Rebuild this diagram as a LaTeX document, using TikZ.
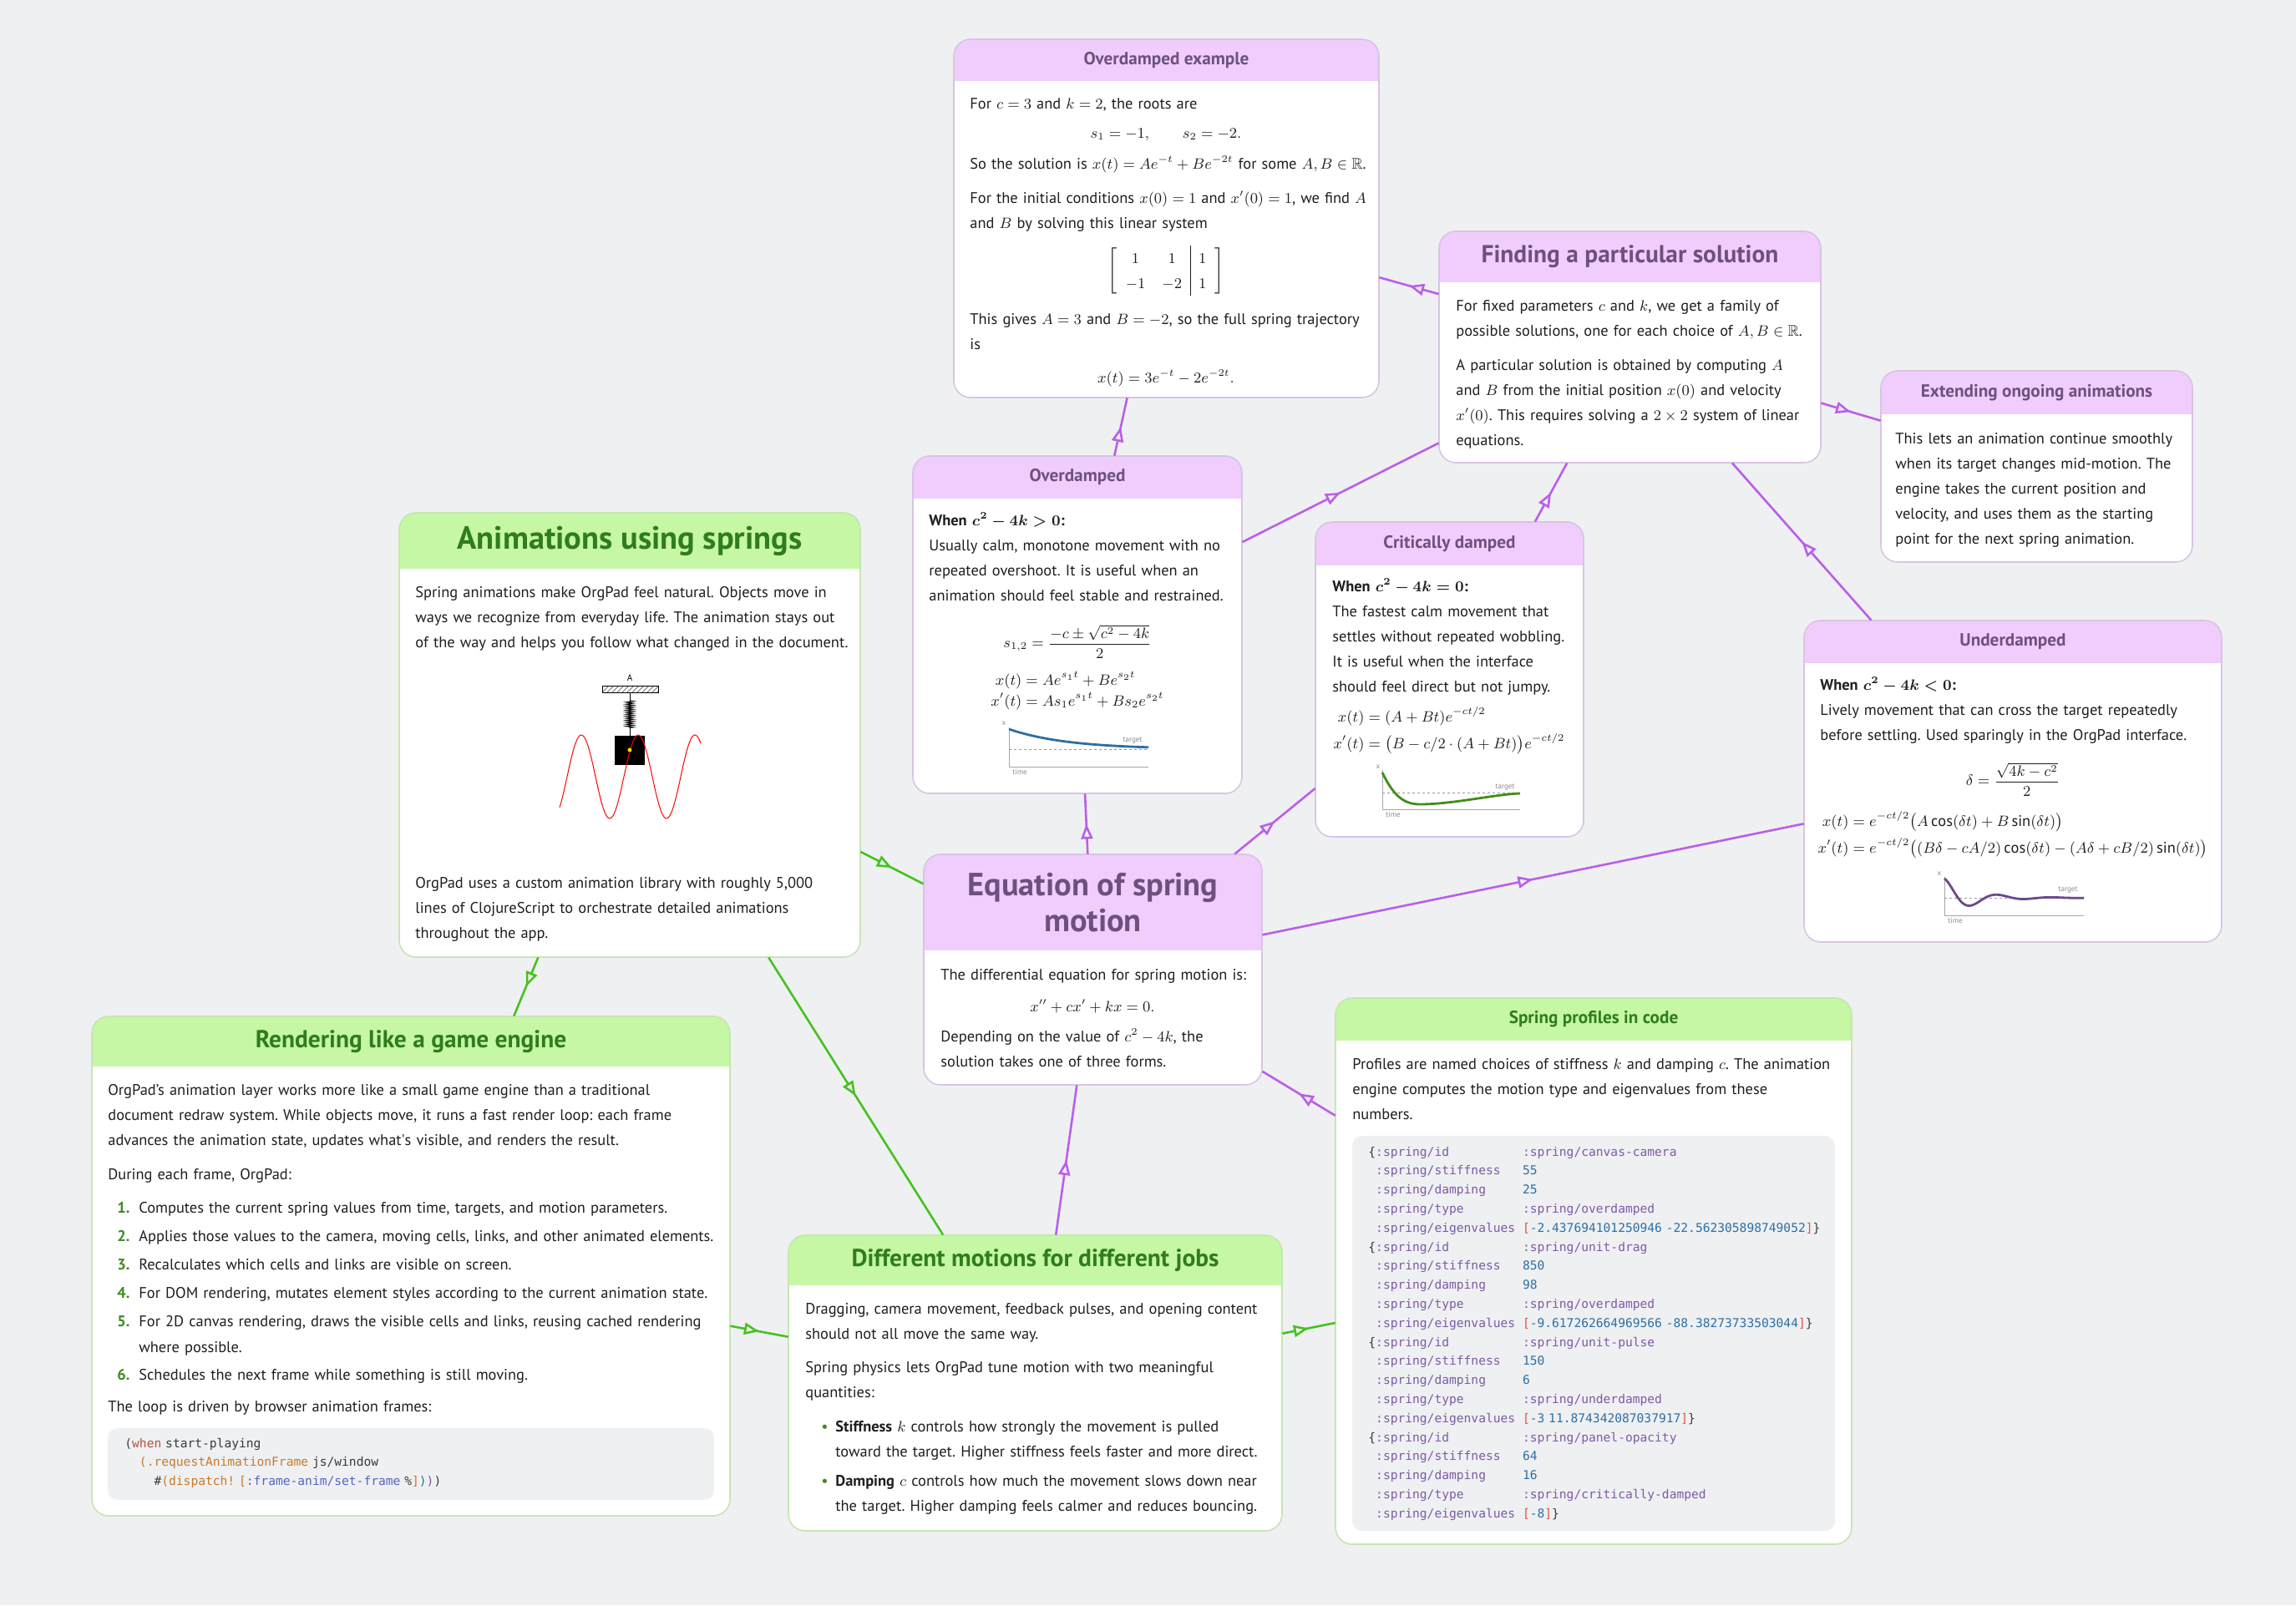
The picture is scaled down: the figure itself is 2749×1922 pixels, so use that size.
\documentclass[tikz,border=0pt]{standalone}
\usepackage{amsmath}
\usepackage{amssymb}
\usepackage{fontspec}
\setmainfont{PT Sans}
\setmonofont{DejaVu Sans Mono}
\usetikzlibrary{fit,calc,arrows.meta,decorations.markings,decorations.pathmorphing,patterns}
\setlength{\jot}{0pt}
\frenchspacing

\definecolor{cBg}{HTML}{EFF0F2}
\definecolor{cPhead}{HTML}{F0CDFC}
\definecolor{cPtitle}{HTML}{6D5080}
\definecolor{cPline}{HTML}{D8C4E4}
\definecolor{cPedge}{HTML}{BB5EEA}
\definecolor{cGhead}{HTML}{C5F7A5}
\definecolor{cGtitle}{HTML}{2F7D1B}
\definecolor{cGline}{HTML}{C6E6B2}
\definecolor{cGedge}{HTML}{46C21E}
\definecolor{cText}{HTML}{1E1E1E}
\definecolor{cNum}{HTML}{3C8A1E}
\definecolor{cCodebg}{HTML}{EEF0F2}
\definecolor{cCode}{HTML}{3A3A3A}
\definecolor{cKey}{HTML}{7D5BA6}
\definecolor{cNr}{HTML}{2D6FA3}
\definecolor{cBr}{HTML}{E2533F}
\definecolor{cWhen}{HTML}{B5533A}
\definecolor{cFn}{HTML}{C87A2B}
\definecolor{cKw}{HTML}{5566C0}
\definecolor{cBlue}{HTML}{2F6EA5}
\definecolor{cGreen}{HTML}{3F8E1A}
\definecolor{cViolet}{HTML}{6A4A8C}

\newcommand{\bodysize}{\fontsize{9.2}{15}\selectfont}
% card: name, x1, y1, x2, y2, header bottom, p/g
\newcommand{\cardbox}[7]{%
  \node[fit={(#2,#3) (#4,#5)}, inner sep=0pt, fill=white, rounded corners=10pt] (#1) {};
  \begin{scope}
    \clip[rounded corners=10pt] (#2,#3) rectangle (#4,#5);
    \fill[#7fill] (#2,#3) rectangle (#4,#6);
  \end{scope}
  \draw[#7line, rounded corners=10pt] (#2,#3) rectangle (#4,#5);
  \coordinate (#1-head) at ($(#2,#3)!0.5!(#4,#6)$);
}
\newcommand{\inum}[1]{\makebox[13pt][l]{\textcolor{cNum}{\bfseries #1}}}
\newcommand{\ibul}{\makebox[8.5pt][l]{\textcolor{cNum}{\textbullet}}}
\newcommand{\kv}[3]{\makebox[0.602em][l]{#1}\makebox[12.04em][l]{\textcolor{cKey}{#2}}#3}
\newcommand{\codekey}[1]{\textcolor{cKey}{#1}}
\newcommand{\codenum}[1]{\textcolor{cNr}{#1}}
\newcommand{\codebr}[1]{\textcolor{cBr}{#1}}

\tikzset{
  pfill/.style={fill=cPhead},
  gfill/.style={fill=cGhead},
  pline/.style={draw=cPline, line width=0.8pt},
  gline/.style={draw=cGline, line width=0.8pt},
  ptitle/.style={inner sep=0pt, text=cPtitle, font=\bfseries\fontsize{#1}{#1}\selectfont},
  ptitle/.default=10.6,
  gtitle/.style={inner sep=0pt, text=cGtitle, font=\bfseries\fontsize{#1}{#1}\selectfont},
  gtitle/.default=10.6,
  body/.style={anchor=base west, inner sep=0pt, text width=400pt, align=left, text=cText, font=\bodysize},
  eqn/.style={anchor=base, inner sep=0pt, text=cText, font=\bodysize},
  eqs/.style={anchor=center, inner sep=0pt, text=cText, font=\fontsize{9.2}{#1}\selectfont},
  eqs/.default=15,
  code/.style={anchor=base west, inner sep=0pt, text width=400pt, align=left, text=cCode, font=\ttfamily\fontsize{7.3}{11.4}\selectfont},
  lab/.style={inner sep=0pt, text=black!45, font=\fontsize{4.5}{5}\selectfont},
  axis/.style={draw=black!35, line width=0.5pt},
  target/.style={draw=black!40, dash pattern=on 1.5pt off 1.5pt, line width=0.4pt},
  curve/.style={line width=1.4pt},
  plink/.style={draw=cPedge, line width=1.3pt, postaction={decorate},
    decoration={markings, mark=at position 0.5 with {\arrow{Triangle[length=9pt, width=7pt, color=cPedge, fill=cBg]}}}},
  glink/.style={draw=cGedge, line width=1.3pt, postaction={decorate},
    decoration={markings, mark=at position 0.5 with {\arrow{Triangle[length=9pt, width=7pt, color=cGedge, fill=cBg]}}}}
}

\begin{document}
\begin{tikzpicture}[x=0.5pt,y=-0.5pt]
\fill[cBg] (0,0) rectangle (2749,1922);
\useasboundingbox (0,0) rectangle (2749,1922);

% cards
\cardbox{ovex}{1142}{47}{1651}{476}{97}{p}
\cardbox{ovd}{1093}{546}{1487}{950}{597}{p}
\cardbox{find}{1723}{277}{2180}{554}{338}{p}
\cardbox{ext}{2252}{444}{2625}{673}{496}{p}
\cardbox{crit}{1575}{625}{1896}{1002}{677}{p}
\cardbox{und}{2160}{743}{2660}{1128}{794}{p}
\cardbox{eq}{1106}{1023}{1511}{1299}{1138}{p}
\cardbox{anim}{478}{614}{1030}{1146}{681}{g}
\cardbox{rend}{110}{1217}{874}{1815}{1277}{g}
\cardbox{diff}{944}{1479}{1535}{1833}{1539}{g}
\cardbox{prof}{1599}{1195}{2217}{1849}{1246}{g}

% Overdamped example
\node[ptitle] (ovex-t) at (ovex-head) {Overdamped example};
\node[body] (ovex-1) at (1161,130) {For $c=3$ and $k=2$, the roots are};
\node[eqn] (ovex-2) at (1396,165) {$s_1=-1,\qquad s_2=-2.$};
\node[body] (ovex-3) at (1161,202) {So the solution is $x(t)=Ae^{-t}+Be^{-2t}$ for some $A,B\in\mathbb{R}$.};
\node[body] (ovex-4) at (1161,243) {For the initial conditions $x(0)=1$ and $x'(0)=1$, we find $A$\\and $B$ by solving this linear system};
\node[eqn, anchor=center] (ovex-5) at (1396,324) {$\left[\begin{array}{cc|c} 1 & 1 & 1\\ -1 & -2 & 1\end{array}\right]$};
\node[body] (ovex-6) at (1161,388) {This gives $A=3$ and $B=-2$, so the full spring trajectory\\is};
\node[eqn] (ovex-7) at (1396,458) {$x(t)=3e^{-t}-2e^{-2t}.$};

% Overdamped
\node[ptitle] (ovd-t) at (ovd-head) {Overdamped};
\node[body] (ovd-1) at (1112,629) {\textbf{When $\boldsymbol{c^2-4k>0}$:}\\Usually calm, monotone movement with no\\repeated overshoot. It is useful when an\\animation should feel stable and restrained.};
\node[eqn, anchor=center] (ovd-2) at (1290,768) {$s_{1,2}=\dfrac{-c\pm\sqrt{c^2-4k}}{2}$};
\node[eqs=12.5] (ovd-3) at (1290,828) {$\begin{aligned}x(t)&=Ae^{s_1t}+Be^{s_2t}\\ x'(t)&=As_1e^{s_1t}+Bs_2e^{s_2t}\end{aligned}$};
\draw[axis] (1208,871) -- (1208,918) -- (1375,918);
\draw[target] (1208,897) -- (1375,897);
\draw[curve, cBlue] plot[domain=0:167, samples=40] ({1208+\x},{897-24*exp(-\x/70)});
\node[lab] at (1202,866) {x};
\node[lab, anchor=west] at (1212,924) {time};
\node[lab] at (1356,887) {target};

% Finding a particular solution
\node[ptitle=14.7] (find-t) at (find-head) {Finding a particular solution};
\node[body] (find-1) at (1743,372) {For fixed parameters $c$ and $k$, we get a family of\\possible solutions, one for each choice of $A,B\in\mathbb{R}$.};
\node[body] (find-2) at (1743,443) {A particular solution is obtained by computing $A$\\and $B$ from the initial position $x(0)$ and velocity\\$x'(0)$. This requires solving a $2\times 2$ system of linear\\equations.};

% Extending ongoing animations
\node[ptitle] (ext-t) at (ext-head) {Extending ongoing animations};
\node[body] (ext-1) at (2269,531) {This lets an animation continue smoothly\\when its target changes mid-motion. The\\engine takes the current position and\\velocity, and uses them as the starting\\point for the next spring animation.};

% Critically damped
\node[ptitle] (crit-t) at (crit-head) {Critically damped};
\node[body] (crit-1) at (1595,708) {\textbf{When $\boldsymbol{c^2-4k=0}$:}\\The fastest calm movement that\\settles without repeated wobbling.\\It is useful when the interface\\should feel direct but not jumpy.};
\node[eqs=16] (crit-2) at (1735,874) {$\begin{aligned}x(t)&=(A+Bt)e^{-ct/2}\\ x'(t)&=\bigl(B-c/2\cdot(A+Bt)\bigr)e^{-ct/2}\end{aligned}$};
\draw[axis] (1655,922) -- (1655,969) -- (1820,969);
\draw[target] (1655,949) -- (1820,949);
\draw[curve, cGreen] (1655,925) .. controls (1668,952) and (1680,963) .. (1700,963) .. controls (1740,963) and (1790,951) .. (1820,950);
\node[lab] at (1650,918) {x};
\node[lab, anchor=west] at (1659,975) {time};
\node[lab] at (1802,943) {target};

% Underdamped
\node[ptitle] (und-t) at (und-head) {Underdamped};
\node[body] (und-1) at (2179,826) {\textbf{When $\boldsymbol{c^2-4k<0}$:}\\Lively movement that can cross the target repeatedly\\before settling. Used sparingly in the OrgPad interface.};
\node[eqn, anchor=center] (und-2) at (2410,933) {$\delta=\dfrac{\sqrt{4k-c^2}}{2}$};
\node[eqs=16] (und-3) at (2410,999) {$\begin{aligned}x(t)&=e^{-ct/2}\bigl(A\cos(\delta t)+B\sin(\delta t)\bigr)\\ x'(t)&=e^{-ct/2}\bigl((B\delta-cA/2)\cos(\delta t)-(A\delta+cB/2)\sin(\delta t)\bigr)\end{aligned}$};
\draw[axis] (2328,1050) -- (2328,1096) -- (2495,1096);
\draw[target] (2328,1075) -- (2495,1075);
\draw[curve, cViolet] plot[domain=0:167, samples=80] ({2328+\x},{1075-23*exp(-\x/35)*cos(5.5385*\x)});
\node[lab] at (2322,1046) {x};
\node[lab, anchor=west] at (2332,1102) {time};
\node[lab] at (2476,1066) {target};

% Equation of spring motion
\node[ptitle=19.2, align=center] (eq-t) at (eq-head) {Equation of spring\\[2.5pt]motion};
\node[body] (eq-1) at (1126,1173) {The differential equation for spring motion is:};
\node[eqn] (eq-2) at (1308,1211) {$x''+cx'+kx=0.$};
\node[body] (eq-3) at (1126,1247) {Depending on the value of $c^2-4k$, the\\solution takes one of three forms.};

% Animations using springs
\node[gtitle=19.2] (anim-t) at (anim-head) {Animations using springs};
\node[body] (anim-1) at (497,715) {Spring animations make OrgPad feel natural. Objects move in\\ways we recognize from everyday life. The animation stays out\\of the way and helps you follow what changed in the document.};
\node[inner sep=0pt, font=\fontsize{5.5}{6}\selectfont] (anim-a) at (754,812) {$\mathrm{A}$};
\draw[pattern=north east lines, pattern color=black!55, line width=0.4pt] (721,821) rectangle (788,829);
\draw[line width=0.5pt] (754,829) -- (754,839);
\draw[line width=0.5pt, decorate, decoration={zigzag, segment length=1.2pt, amplitude=2.2pt}] (754,839) -- (754,872);
\draw[line width=0.5pt] (754,872) -- (754,881);
\fill[black] (736,881) rectangle (772,916);
\draw[red, line width=0.5pt] plot[domain=670:839, samples=120] (\x,{930-50*sin(5.2941*(\x-679))});
\fill[yellow!80!orange] (754,898) circle (1.2pt);
\node[body] (anim-2) at (497,1063) {OrgPad uses a custom animation library with roughly 5,000\\lines of ClojureScript to orchestrate detailed animations\\throughout the app.};

% Rendering like a game engine
\node[gtitle=14.7] (rend-t) at (rend-head) {Rendering like a game engine};
\node[body] (rend-1) at (129,1311) {OrgPad’s animation layer works more like a small game engine than a traditional\\document redraw system. While objects move, it runs a fast render loop: each frame\\advances the animation state, updates what\textquotesingle s visible, and renders the result.};
\node[body] (rend-2) at (129,1412) {During each frame, OrgPad:};
\node[body] (rend-3) at (140,1452) {\inum{1.}Computes the current spring values from time, targets, and motion parameters.\\[2pt]
\inum{2.}Applies those values to the camera, moving cells, links, and other animated elements.\\[2pt]
\inum{3.}Recalculates which cells and links are visible on screen.\\[2pt]
\inum{4.}For DOM rendering, mutates element styles according to the current animation state.\\[2pt]
\inum{5.}For 2D canvas rendering, draws the visible cells and links, reusing cached rendering\\[0.5pt]
\inum{}where possible.\\[1.5pt]
\inum{6.}Schedules the next frame while something is still moving.};
\node[body] (rend-4) at (129,1690) {The loop is driven by browser animation frames:};
\fill[cCodebg, rounded corners=6pt] (129,1710) rectangle (855,1796);
\node[code] (rend-5) at (149,1733) {(\textcolor{cWhen}{when} start-playing\\
\hspace*{1.204em}\textcolor{cFn}{(.requestAnimationFrame} js/window\\
\hspace*{2.408em}\#\textcolor{cFn}{(dispatch!} \textcolor{cFn}{[}\textcolor{cKw}{:frame-anim/set-frame} \%\textcolor{cFn}{]}\textcolor{cNr}{)}\textcolor{cKey}{)})};

% Different motions for different jobs
\node[gtitle=14.7] (diff-t) at (diff-head) {Different motions for different jobs};
\node[body] (diff-1) at (964,1573) {Dragging, camera movement, feedback pulses, and opening content\\should not all move the same way.};
\node[body] (diff-2) at (964,1643) {Spring physics lets OrgPad tune motion with two meaningful\\quantities:};
\node[body] (diff-3) at (983,1714) {\ibul\textbf{Stiffness} $k$ controls how strongly the movement is pulled\\
\hspace*{8.5pt}toward the target. Higher stiffness feels faster and more direct.\\[2.5pt]
\ibul\textbf{Damping} $c$ controls how much the movement slows down near\\
\hspace*{8.5pt}the target. Higher damping feels calmer and reduces bouncing.};

% Spring profiles in code
\node[gtitle] (prof-t) at (prof-head) {Spring profiles in code};
\node[body] (prof-1) at (1619,1280) {Profiles are named choices of stiffness $k$ and damping $c$. The animation\\engine computes the motion type and eigenvalues from these\\numbers.};
\fill[cCodebg, rounded corners=6pt] (1619,1360) rectangle (2197,1833);
\node[code] (prof-2) at (1638,1384) {\kv{\{}{:spring/id}{\codekey{:spring/canvas-camera}}\\
\kv{}{:spring/stiffness}{\codenum{55}}\\
\kv{}{:spring/damping}{\codenum{25}}\\
\kv{}{:spring/type}{\codekey{:spring/overdamped}}\\
\kv{}{:spring/eigenvalues}{\codebr{[}\codenum{-2.437694101250946 -22.562305898749052}\codebr{]}\}}\\
\kv{\{}{:spring/id}{\codekey{:spring/unit-drag}}\\
\kv{}{:spring/stiffness}{\codenum{850}}\\
\kv{}{:spring/damping}{\codenum{98}}\\
\kv{}{:spring/type}{\codekey{:spring/overdamped}}\\
\kv{}{:spring/eigenvalues}{\codebr{[}\codenum{-9.617262664969566 -88.38273733503044}\codebr{]}\}}\\
\kv{\{}{:spring/id}{\codekey{:spring/unit-pulse}}\\
\kv{}{:spring/stiffness}{\codenum{150}}\\
\kv{}{:spring/damping}{\codenum{6}}\\
\kv{}{:spring/type}{\codekey{:spring/underdamped}}\\
\kv{}{:spring/eigenvalues}{\codebr{[}\codenum{-3 11.874342087037917}\codebr{]}\}}\\
\kv{\{}{:spring/id}{\codekey{:spring/panel-opacity}}\\
\kv{}{:spring/stiffness}{\codenum{64}}\\
\kv{}{:spring/damping}{\codenum{16}}\\
\kv{}{:spring/type}{\codekey{:spring/critically-damped}}\\
\kv{}{:spring/eigenvalues}{\codebr{[}\codenum{-8}\codebr{]}\}}};

% links
\draw[plink] (find) -- (ovex);
\draw[plink] (ovd) -- (ovex);
\draw[plink] (ovd) -- (find);
\draw[plink] (crit) -- (find);
\draw[plink] (und) -- (find);
\draw[plink] (find) -- (ext);
\draw[plink] (eq) -- (ovd);
\draw[plink] (eq) -- (crit);
\draw[plink] (eq) -- (und);
\draw[plink] (prof) -- (eq);
\draw[plink] (diff) -- (eq);
\draw[glink] (anim) -- (eq);
\draw[glink] (anim) -- (rend);
\draw[glink] (anim) -- (diff);
\draw[glink] (rend) -- (diff);
\draw[glink] (diff) -- (prof);
\end{tikzpicture}
\end{document}
